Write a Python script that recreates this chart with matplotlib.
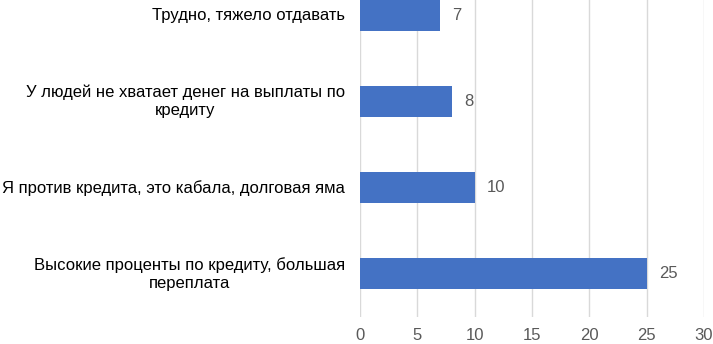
import matplotlib.pyplot as plt

plt.rcParams['font.family'] = ['Liberation Sans', 'DejaVu Sans']

# Data (top to bottom as shown)
categories = [
    'Трудно, тяжело отдавать',
    'У людей не хватает денег на выплаты по\nкредиту',
    'Я против кредита, это кабала, долговая яма',
    'Высокие проценты по кредиту, большая\nпереплата',
]
values = [7, 8, 10, 25]
xticks = [0, 5, 10, 15, 20, 25, 30]

fig = plt.figure(figsize=(7.13, 3.44), dpi=100)
# axes extends above the figure top (reference is cropped)
ax = fig.add_axes([360 / 713, 27 / 344, 344 / 713, 345 / 344])

pos = list(range(len(categories)))
ax.barh(pos, values, height=0.36, color='#4472C4', zorder=3)
ax.set_ylim(len(categories) - 0.5, -0.5)
ax.set_xlim(0, 30)
ax.set_xticks(xticks)
ax.set_yticks(pos)
ax.set_yticklabels([])
ax.tick_params(axis='y', length=0)
ax.tick_params(axis='x', length=0, pad=8, labelsize=12, labelcolor='#595959')

ax.grid(axis='x', color='#d9d9d9', linewidth=1, zorder=0)
for s in ax.spines.values():
    s.set_visible(False)

# category labels: right-aligned block, centred lines
for p, c in zip(pos, categories):
    ax.text(-1.3, p, c, ha='right', va='center', multialignment='center',
            fontsize=12, color='black', clip_on=False, linespacing=1.25)

for p, v in zip(pos, values):
    ax.text(v + 1.05, p, str(v), va='center', ha='left', fontsize=12, color='#595959')

fig.savefig('out.png', dpi=100)
